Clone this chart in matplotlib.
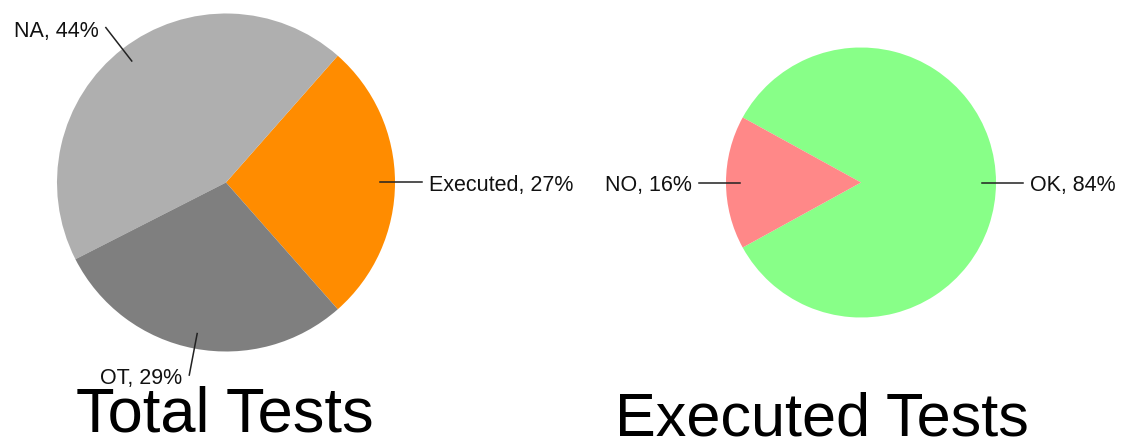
import numpy as np
import matplotlib
matplotlib.use("Agg")
import matplotlib.pyplot as plt

plt.rcParams['font.family'] = ['Liberation Sans', 'DejaVu Sans']

# data
total_labels = ["Executed", "NA", "OT"]
total_values = [27, 44, 29]
total_colors = ["#FF8C00", "#AFAFAF", "#7F7F7F"]

exec_labels = ["OK", "NO"]
exec_values = [84, 16]
exec_colors = ["#88FF88", "#FF8888"]

titles = ["Total Tests", "Executed Tests"]

W, H = 1125, 441
fig = plt.figure(figsize=(W / 100, H / 100), dpi=100)


def make_ax(cx, cy, r):
    return fig.add_axes([(cx - r) / W, (H - cy - r) / H, 2 * r / W, 2 * r / H])


def draw_pie(ax, labels, values, colors, r_in, r_out):
    total = sum(values)
    start = -360.0 * values[0] / total / 2
    wedges, _ = ax.pie(values, colors=colors, startangle=start, counterclock=True,
                       wedgeprops=dict(linewidth=0))
    ax.set_xlim(-1, 1)
    ax.set_ylim(-1, 1)
    ax.set_aspect('equal')
    ax.axis('off')
    for w, lab, v in zip(wedges, labels, values):
        mid = np.deg2rad((w.theta1 + w.theta2) / 2)
        c, s = np.cos(mid), np.sin(mid)
        ax.plot([r_in * c, r_out * c], [r_in * s, r_out * s], color="#222222",
                lw=1.1, clip_on=False)
        ha = 'left' if c >= 0 else 'right'
        ax.annotate(f"{lab}, {round(100 * v / total)}%", xy=(r_out * c, r_out * s),
                    xytext=(5 if c >= 0 else -5, -2.5), textcoords='offset points',
                    ha=ha, va='center', fontsize=15.5, color="#111111",
                    annotation_clip=False)


ax1 = make_ax(226, 182.5, 169)
draw_pie(ax1, total_labels, total_values, total_colors, 0.91, 1.16)

ax2 = make_ax(861, 182.5, 135)
draw_pie(ax2, exec_labels, exec_values, exec_colors, 0.9, 1.2)

fig.text(225 / W, 1 - 432 / H, titles[0], ha='center', va='baseline', fontsize=45.5)
fig.text(822 / W, 1 - 436 / H, titles[1], ha='center', va='baseline', fontsize=44)

fig.savefig("out.png", dpi=100, facecolor="white")
